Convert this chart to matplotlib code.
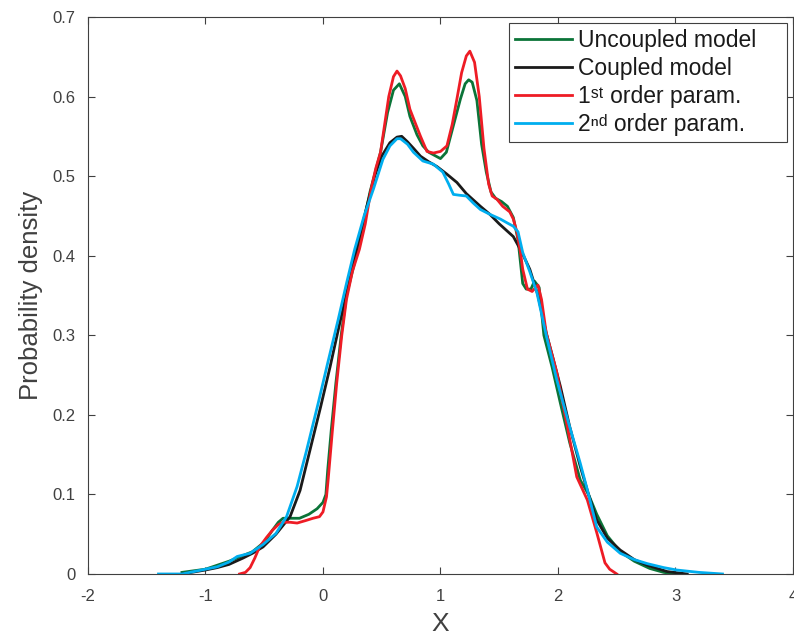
'''
 Probability density of X for the four models
'''
import matplotlib
matplotlib.use('Agg')
import matplotlib.pyplot as plt # We import a library for plotting

plt.rcParams['font.family'] = ['Liberation Sans', 'DejaVu Sans']

# Uncoupled model
x_unc = [-1.2, -1.0, -0.8, -0.6, -0.5, -0.43, -0.38, -0.34, -0.28, -0.2, -0.12, -0.05, 0.0, 0.025, 0.04,
         0.07, 0.11, 0.155, 0.2, 0.3, 0.4, 0.49, 0.55, 0.6, 0.65, 0.7, 0.74, 0.8, 0.85, 0.9, 0.95,
         1.0, 1.05, 1.1, 1.17, 1.21, 1.24, 1.27, 1.31, 1.35, 1.39, 1.43, 1.47, 1.52, 1.57, 1.62, 1.66,
         1.7, 1.73, 1.77, 1.8, 1.84, 1.88, 1.95, 2.02, 2.1, 2.19, 2.26, 2.33, 2.42, 2.53, 2.65, 2.78,
         2.9, 3.0]
y_unc = [0.002, 0.006, 0.016, 0.028, 0.04, 0.055, 0.065, 0.07, 0.07, 0.07, 0.075, 0.082, 0.09, 0.1, 0.13,
         0.18, 0.24, 0.3, 0.35, 0.41, 0.48, 0.53, 0.58, 0.608, 0.616, 0.6, 0.575, 0.552, 0.538, 0.53, 0.526,
         0.522, 0.53, 0.558, 0.597, 0.616, 0.621, 0.618, 0.595, 0.54, 0.505, 0.48, 0.472, 0.468, 0.462, 0.448, 0.42,
         0.365, 0.358, 0.358, 0.368, 0.36, 0.3, 0.26, 0.215, 0.165, 0.118, 0.1, 0.075, 0.048, 0.028, 0.016, 0.007,
         0.002, 0.0]

# Coupled model
x_cou = [-1.2, -1.0, -0.9, -0.8, -0.68, -0.6, -0.51, -0.4, -0.28, -0.195, -0.12, -0.02, 0.06, 0.15,
         0.22, 0.29, 0.37, 0.44, 0.5, 0.57, 0.63, 0.67, 0.72, 0.77, 0.83, 0.9, 0.97, 1.05, 1.14,
         1.22, 1.28, 1.34, 1.42, 1.5, 1.56, 1.62, 1.69, 1.76, 1.83, 1.9, 1.96, 2.02, 2.1, 2.19, 2.26,
         2.33, 2.42, 2.53, 2.65, 2.76, 2.93, 3.1]
y_cou = [0.0, 0.005, 0.008, 0.012, 0.02, 0.026, 0.034, 0.05, 0.072, 0.105, 0.15, 0.21, 0.26, 0.32,
         0.365, 0.41, 0.46, 0.5, 0.525, 0.542, 0.549, 0.55, 0.543, 0.535, 0.525, 0.518, 0.512, 0.503, 0.492,
         0.478, 0.47, 0.462, 0.452, 0.44, 0.432, 0.424, 0.405, 0.383, 0.35, 0.303, 0.27, 0.236, 0.185, 0.135, 0.1,
         0.068, 0.045, 0.03, 0.018, 0.011, 0.003, 0.0]

# 1st order parametrization
x_p1 = [-0.71, -0.66, -0.62, -0.58, -0.54, -0.48, -0.43, -0.38, -0.34, -0.28, -0.22, -0.15, -0.085, -0.03,
        0.0, 0.03, 0.045, 0.08, 0.117, 0.16, 0.2, 0.25, 0.31, 0.36, 0.41, 0.45, 0.49, 0.52, 0.56, 0.6,
        0.63, 0.66, 0.7, 0.74, 0.79, 0.83, 0.885, 0.94, 1.0, 1.055, 1.1, 1.14, 1.18, 1.22, 1.25, 1.29,
        1.33, 1.37, 1.41, 1.44, 1.48, 1.53, 1.59, 1.62, 1.65, 1.68, 1.7, 1.74, 1.78, 1.81, 1.83, 1.86,
        1.9, 1.99, 2.08, 2.16, 2.25, 2.33, 2.4, 2.44, 2.47, 2.5]
y_p1 = [0.0, 0.002, 0.008, 0.02, 0.034, 0.046, 0.055, 0.062, 0.065, 0.065, 0.064, 0.067, 0.07, 0.072,
        0.078, 0.097, 0.12, 0.18, 0.24, 0.3, 0.345, 0.38, 0.408, 0.44, 0.484, 0.51, 0.53, 0.56, 0.6, 0.625,
        0.632, 0.626, 0.61, 0.584, 0.565, 0.55, 0.531, 0.529, 0.531, 0.538, 0.565, 0.597, 0.63, 0.651, 0.657, 0.643,
        0.6, 0.535, 0.49, 0.475, 0.471, 0.462, 0.455, 0.446, 0.43, 0.405, 0.383, 0.358, 0.355, 0.36, 0.363, 0.345,
        0.303, 0.253, 0.185, 0.122, 0.093, 0.052, 0.014, 0.006, 0.003, 0.0]

# 2nd order parametrization
x_p2 = [-1.4, -1.2, -1.1, -0.9, -0.8, -0.73, -0.62, -0.51, -0.4, -0.31, -0.22, -0.14, -0.04, 0.04, 0.13,
        0.2, 0.27, 0.35, 0.43, 0.51, 0.57, 0.63, 0.66, 0.72, 0.77, 0.85, 0.94, 1.02, 1.07, 1.11, 1.16,
        1.22, 1.28, 1.34, 1.42, 1.51, 1.57, 1.62, 1.66, 1.7, 1.76, 1.82, 1.9, 1.99, 2.09, 2.19, 2.26,
        2.33, 2.42, 2.53, 2.65, 2.76, 2.9, 3.01, 3.2, 3.4]
y_p2 = [0.0, 0.0, 0.003, 0.009, 0.015, 0.022, 0.026, 0.037, 0.051, 0.072, 0.11, 0.155, 0.215, 0.265, 0.32,
        0.365, 0.408, 0.45, 0.484, 0.521, 0.538, 0.547, 0.547, 0.54, 0.53, 0.519, 0.515, 0.505, 0.49, 0.477, 0.476,
        0.475, 0.466, 0.458, 0.452, 0.446, 0.441, 0.437, 0.43, 0.404, 0.38, 0.354, 0.3, 0.244, 0.19, 0.139, 0.1,
        0.059, 0.04, 0.026, 0.018, 0.013, 0.008, 0.005, 0.002, 0.0]

x_ticks = [-2, -1, 0, 1, 2, 3, 4]
y_ticks = [0, 0.1, 0.2, 0.3, 0.4, 0.5, 0.6, 0.7]
y_tick_labels = ['0', '0.1', '0.2', '0.3', '0.4', '0.5', '0.6', '0.7']

# Dictionary with the curves, in drawing order (superscripts as unicode modifier letters)
plot_dic = {
    'unc' : {'x':x_unc, 'y':y_unc, 'color':'#0b7438', 'label':'Uncoupled model'},
    'cou' : {'x':x_cou, 'y':y_cou, 'color':'#1a1a1a', 'label':'Coupled model'},
    'p1'  : {'x':x_p1, 'y':y_p1, 'color':'#ee1c25', 'label':'1\u02e2\u1d57 order param.'},
    'p2'  : {'x':x_p2, 'y':y_p2, 'color':'#00aeef', 'label':'2\u207f\u1d48 order param.'},
}

fig = plt.figure(figsize = (7.94, 6.35), dpi = 100) # Figure of the graph
ax = fig.add_axes([0.1108, 0.0961, 0.8879, 0.8772]) # Canvas of the graph

for key in plot_dic.keys():
    data = plot_dic[key]
    ax.plot(data['x'], data['y'], linewidth = 2.0, color = data['color'], label = data['label'],
            solid_joinstyle = 'round')

ax.set_xlim(-2, 4) # Sets the X limits
ax.set_ylim(0, 0.7) # Sets the Y limits
ax.set_xticks(x_ticks)
ax.set_xticklabels([str(t) for t in x_ticks])
ax.set_yticks(y_ticks)
ax.set_yticklabels(y_tick_labels)

ax.tick_params(direction = 'in', top = True, right = True, length = 5, width = 0.8,
               labelsize = 12, colors = '#404040', labelcolor = '#404040')
ax.tick_params(axis = 'x', pad = 11)
ax.tick_params(axis = 'y', pad = 9)
for side in ax.spines.values():
    side.set_color('#404040')
    side.set_linewidth(0.8)

ax.set_xlabel('X', fontsize = 19, color = '#404040', labelpad = 5.5) # Sets the X labels
ax.set_ylabel('Probability density', fontsize = 18.5, color = '#404040', labelpad = 6.5) # Sets the Y labels

# Legend box stretched like the original one
leg = ax.legend(loc = 'upper left', bbox_to_anchor = (0.597, 0.776, 0.3945, 0.213), mode = 'expand',
                fontsize = 16.5, handlelength = 2.49, handletextpad = 0.26, labelspacing = 0.22,
                borderpad = 0.26, borderaxespad = 0, fancybox = False, framealpha = 1, edgecolor = '#404040')
leg.get_frame().set_linewidth(0.8)
for t in leg.get_texts():
    t.set_color('#1a1a1a')

fig.savefig('out.png', dpi = 100)
